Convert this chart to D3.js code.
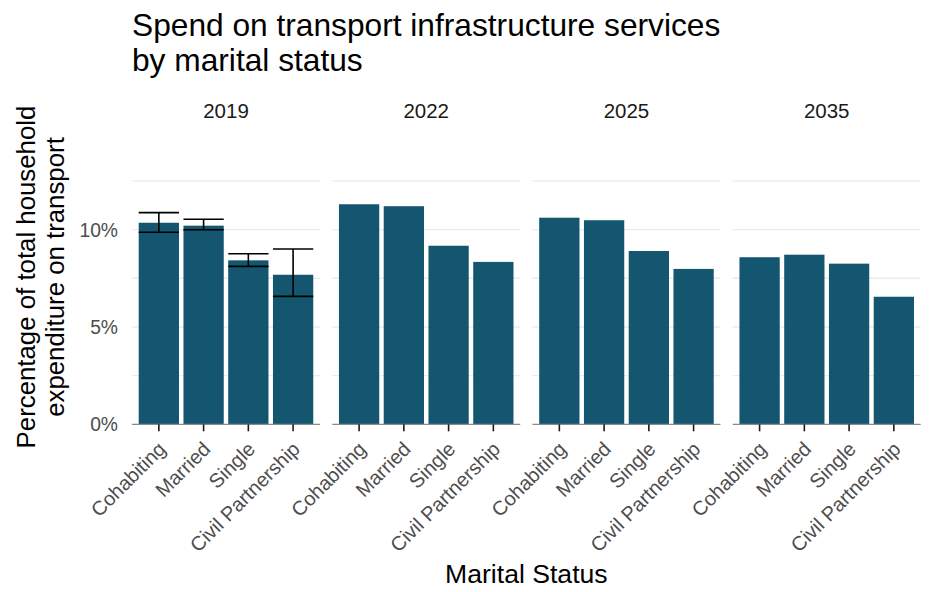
<!DOCTYPE html>
<html>
<head>
<meta charset="utf-8">
<script src="https://cdn.jsdelivr.net/npm/d3@7"></script>
<style>
  html, body { margin: 0; padding: 0; background: #ffffff; }
  svg { display: block; font-family: "Liberation Sans", Arial, sans-serif; }
</style>
</head>
<body>
<svg id="chart" width="936" height="592"></svg>
<script>
// Facet panels (survey / projection years) and marital status categories
const years = ["2019", "2022", "2025", "2035"];
const statuses = ["Cohabiting", "Married", "Single", "Civil Partnership"];

// Share of household transport spend going to infrastructure services (%)
const spend2019 = [10.35, 10.2, 8.42, 7.68];
const spend2022 = [11.3, 11.2, 9.17, 8.34];
const spend2025 = [10.61, 10.48, 8.9, 7.98];
const spend2035 = [8.58, 8.71, 8.25, 6.55];

// Confidence interval bounds, only available for the 2019 survey
const lower2019 = [9.86, 9.99, 8.11, 6.57];
const upper2019 = [10.87, 10.53, 8.76, 9.0];

// Axis ticks
const yTicks = [0, 5, 10];
const yGrid = [2.5, 5, 7.5, 10, 12.5];

const spendByYear = { "2019": spend2019, "2022": spend2022, "2025": spend2025, "2035": spend2035 };
const errorsByYear = { "2019": { lower: lower2019, upper: upper2019 } };

const svg = d3.select("#chart");
const barColor = "#14566f";

const plotLeft = 132, plotRight = 920.7;
const y = d3.scaleLinear().domain([0, 12.7]).range([424.3, 177]);

const panel = d3.scaleBand().domain(years).range([plotLeft, plotRight])
  .paddingInner(0.0614).paddingOuter(0);
const x = d3.scaleBand().domain(statuses).range([0, panel.bandwidth()])
  .paddingInner(0.1).paddingOuter(0.15);

// Title (two lines)
svg.append("text")
  .attr("x", 132).attr("y", 35.8)
  .attr("font-size", 31.7).attr("fill", "#000")
  .text("Spend on transport infrastructure services");
svg.append("text")
  .attr("x", 132).attr("y", 71.4)
  .attr("font-size", 31.7).attr("fill", "#000")
  .text("by marital status");

// Y axis title (two lines)
const yTitle = svg.append("text")
  .attr("transform", "translate(35, 277) rotate(-90)")
  .attr("text-anchor", "middle").attr("font-size", 25.8).attr("fill", "#000");
yTitle.append("tspan").attr("x", 0).attr("y", 0).text("Percentage of total household");
yTitle.append("tspan").attr("x", 0).attr("y", 29).text("expenditure on transport");

// Y tick labels
svg.append("g").selectAll("text").data(yTicks).join("text")
  .attr("x", 118).attr("y", d => y(d)).attr("dy", "0.36em")
  .attr("text-anchor", "end").attr("font-size", 19.3).attr("fill", "#4d4d4d")
  .text(d => d + "%");

// X axis title
svg.append("text")
  .attr("x", (plotLeft + plotRight) / 2).attr("y", 582.5)
  .attr("text-anchor", "middle").attr("font-size", 26.6).attr("fill", "#000")
  .text("Marital Status");

years.forEach(yr => {
  const g = svg.append("g").attr("transform", `translate(${panel(yr)},0)`);
  const w = panel.bandwidth();

  // Strip label
  g.append("text").attr("x", w / 2).attr("y", 118)
    .attr("text-anchor", "middle").attr("font-size", 20.5).attr("fill", "#1a1a1a")
    .text(yr);

  // Grid lines
  g.append("g").selectAll("line").data(yGrid).join("line")
    .attr("x1", 0).attr("x2", w)
    .attr("y1", d => y(d)).attr("y2", d => y(d))
    .attr("stroke", "#ebebeb").attr("stroke-width", 1.4);

  // Bars
  const vals = spendByYear[yr];
  g.append("g").selectAll("rect").data(statuses).join("rect")
    .attr("x", d => x(d)).attr("width", x.bandwidth())
    .attr("y", (d, i) => y(vals[i]))
    .attr("height", (d, i) => y(0) - y(vals[i]))
    .attr("fill", barColor);

  // Error bars
  const err = errorsByYear[yr];
  if (err) {
    const eg = g.append("g").attr("stroke", "#000").attr("stroke-width", 1.6).attr("fill", "none");
    statuses.forEach((s, i) => {
      const cx = x(s) + x.bandwidth() / 2;
      const x0 = x(s), x1 = x(s) + x.bandwidth();
      eg.append("line").attr("x1", cx).attr("x2", cx).attr("y1", y(err.lower[i])).attr("y2", y(err.upper[i]));
      eg.append("line").attr("x1", x0).attr("x2", x1).attr("y1", y(err.lower[i])).attr("y2", y(err.lower[i]));
      eg.append("line").attr("x1", x0).attr("x2", x1).attr("y1", y(err.upper[i])).attr("y2", y(err.upper[i]));
    });
  }

  // X axis line and ticks
  g.append("line").attr("x1", 0).attr("x2", w).attr("y1", y(0)).attr("y2", y(0))
    .attr("stroke", "#8a8a8a").attr("stroke-width", 1.3);
  g.append("g").selectAll("line").data(statuses).join("line")
    .attr("x1", d => x(d) + x.bandwidth() / 2).attr("x2", d => x(d) + x.bandwidth() / 2)
    .attr("y1", y(0)).attr("y2", y(0) + 7)
    .attr("stroke", "#1a1a1a").attr("stroke-width", 1.6);

  // Rotated category labels
  g.append("g").selectAll("text").data(statuses).join("text")
    .attr("transform", d => `translate(${x(d) + x.bandwidth() / 2 - 2},${y(0) + 16}) rotate(-45)`)
    .attr("dy", "0.71em").attr("text-anchor", "end")
    .attr("font-size", 20).attr("fill", "#4d4d4d")
    .text(d => d);
});
</script>
</body>
</html>
